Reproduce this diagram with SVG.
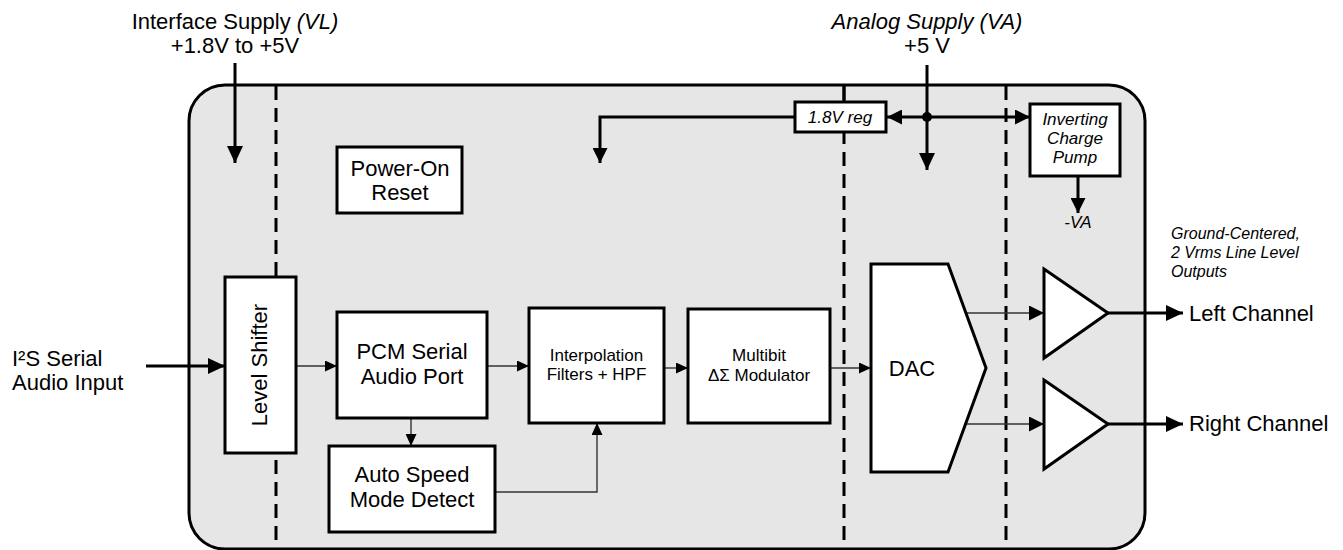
<svg xmlns="http://www.w3.org/2000/svg" width="1343" height="550" viewBox="0 0 1343 550">
<defs>
<style>
text{font-family:"Liberation Sans",Arial,sans-serif;fill:#000}
.l{font-size:22px}
.m{font-size:17px}
.s{font-size:16px}
.i{font-style:italic}
.box{fill:#fff;stroke:#000;stroke-width:3}
.dash{stroke:#000;stroke-width:3;stroke-dasharray:14 8;fill:none}
.thick{stroke:#000;stroke-width:3;fill:none}
.thin{stroke:#333;stroke-width:1.4;fill:none}
</style>
<marker id="ah" markerUnits="userSpaceOnUse" markerWidth="17" markerHeight="16" refX="17" refY="8" orient="auto"><path d="M0,0 L17,8 L0,16 z" fill="#000"/></marker>
<marker id="am" markerUnits="userSpaceOnUse" markerWidth="15" markerHeight="15" refX="15" refY="7.5" orient="auto"><path d="M0,0 L15,7.5 L0,15 z" fill="#000"/></marker>
<marker id="as" markerUnits="userSpaceOnUse" markerWidth="12" markerHeight="11" refX="12" refY="5.5" orient="auto"><path d="M0,0 L12,5.5 L0,11 z" fill="#000"/></marker>
</defs>

<rect id="chip" x="189" y="85" width="956" height="464" rx="36" ry="36" fill="#e6e6e6" stroke="#000" stroke-width="3"/>

<g id="domains">
<line class="dash" x1="276" y1="86" x2="276" y2="550"/>
<line class="dash" x1="844" y1="86" x2="844" y2="550"/>
<line class="dash" x1="1006" y1="86" x2="1006" y2="550"/>
</g>

<g id="labels">
<text class="l" x="235" y="29" text-anchor="middle">Interface Supply <tspan class="i">(VL)</tspan></text>
<text class="l" x="235" y="53" text-anchor="middle">+1.8V to +5V</text>
<text class="l i" x="927" y="29" text-anchor="middle">Analog Supply (VA)</text>
<text class="l" x="927" y="53" text-anchor="middle">+5 V</text>
<text class="l" x="12" y="366">I²S Serial</text>
<text class="l" x="12" y="390">Audio Input</text>
<text class="s i" x="1171" y="239">Ground-Centered,</text>
<text class="s i" x="1171" y="258">2 Vrms Line Level</text>
<text class="s i" x="1171" y="277">Outputs</text>
<text class="l" x="1189" y="321">Left Channel</text>
<text class="l" x="1189" y="431">Right Channel</text>
<text class="m i" x="1078" y="228" text-anchor="middle">-VA</text>
</g>

<g id="connectors">
<line class="thick" x1="235" y1="63" x2="235" y2="163" marker-end="url(#ah)"/>
<line class="thick" x1="927" y1="65" x2="927" y2="170" marker-end="url(#ah)"/>
<line class="thick" x1="927" y1="117" x2="887" y2="117" marker-end="url(#am)"/>
<line class="thick" x1="927" y1="117" x2="1030" y2="117" marker-end="url(#am)"/>
<circle cx="927" cy="117" r="5" fill="#000"/>
<line class="thick" x1="844" y1="86" x2="844" y2="103"/>
<polyline class="thick" points="795,117 600,117 600,163" marker-end="url(#am)"/>
<line class="thick" x1="1078" y1="176" x2="1078" y2="213" marker-end="url(#am)"/>
<line class="thick" x1="146" y1="366" x2="225" y2="366" marker-end="url(#ah)"/>
<line class="thin" x1="296" y1="366" x2="337" y2="366" marker-end="url(#as)"/>
<line class="thin" x1="487" y1="366" x2="529" y2="366" marker-end="url(#as)"/>
<line class="thin" x1="411" y1="418" x2="411" y2="446" marker-end="url(#as)"/>
<polyline class="thin" points="495,492 597,492 597,423" marker-end="url(#as)"/>
<line class="thin" x1="664" y1="368" x2="688" y2="368" marker-end="url(#as)"/>
<line class="thin" x1="830" y1="368" x2="871" y2="368" marker-end="url(#as)"/>
<line class="thin" x1="967" y1="313" x2="1044" y2="313" marker-end="url(#am)"/>
<line class="thin" x1="967" y1="424" x2="1044" y2="424" marker-end="url(#am)"/>
<line class="thick" x1="1108" y1="313" x2="1183" y2="313" marker-end="url(#ah)"/>
<line class="thick" x1="1108" y1="424" x2="1183" y2="424" marker-end="url(#ah)"/>
</g>

<g id="reg18">
<rect class="box" x="795" y="102" width="91" height="30"/>
<text class="m i" x="840" y="123" text-anchor="middle">1.8V reg</text>
</g>

<g id="chargepump">
<rect class="box" x="1030" y="104" width="90" height="72"/>
<text class="m i" x="1075" y="125" text-anchor="middle">Inverting</text>
<text class="m i" x="1075" y="144" text-anchor="middle">Charge</text>
<text class="m i" x="1075" y="163" text-anchor="middle">Pump</text>
</g>

<g id="por">
<rect class="box" x="337" y="147" width="125" height="66"/>
<text class="l" x="400" y="176" text-anchor="middle">Power-On</text>
<text class="l" x="400" y="200" text-anchor="middle">Reset</text>
</g>

<g id="levelshifter">
<rect class="box" x="225" y="277" width="71" height="176"/>
<text class="l" transform="translate(267,365) rotate(-90)" text-anchor="middle">Level Shifter</text>
</g>

<g id="pcm">
<rect class="box" x="337" y="312" width="150" height="106"/>
<text class="l" x="412" y="359" text-anchor="middle">PCM Serial</text>
<text class="l" x="412" y="384" text-anchor="middle">Audio Port</text>
</g>

<g id="autospeed">
<rect class="box" x="329" y="446" width="166" height="86"/>
<text class="l" x="412" y="482" text-anchor="middle">Auto Speed</text>
<text class="l" x="412" y="507" text-anchor="middle">Mode Detect</text>
</g>

<g id="interp">
<rect class="box" x="529" y="308" width="135" height="115"/>
<text class="m" x="596.5" y="361" text-anchor="middle">Interpolation</text>
<text class="m" x="596.5" y="380" text-anchor="middle">Filters + HPF</text>
</g>

<g id="modulator">
<rect class="box" x="688" y="309" width="142" height="114"/>
<text class="m" x="759" y="361" text-anchor="middle">Multibit</text>
<text class="m" x="759" y="381" text-anchor="middle">ΔΣ Modulator</text>
</g>

<g id="dac">
<path class="box" d="M871,264 L948,264 L986,368 L948,472 L871,472 Z"/>
<text class="l" x="912" y="376" text-anchor="middle">DAC</text>
</g>

<g id="ampL">
<path class="box" d="M1044,269 L1108,313 L1044,358 Z"/>
</g>
<g id="ampR">
<path class="box" d="M1044,380 L1108,424 L1044,469 Z"/>
</g>
</svg>
